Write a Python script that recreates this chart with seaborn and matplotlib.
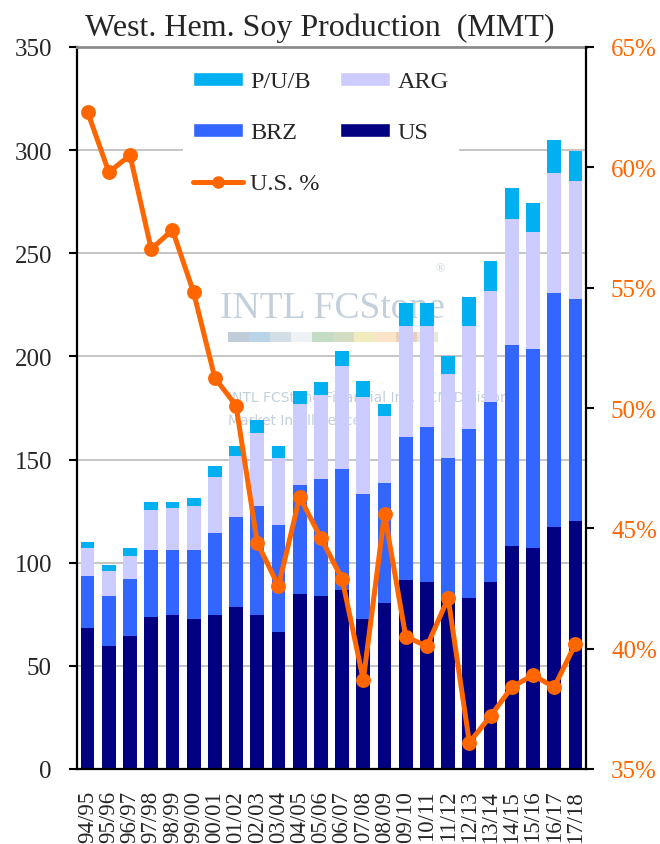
import numpy as np
import matplotlib
matplotlib.use('Agg')
import matplotlib.pyplot as plt
import seaborn as sns
from matplotlib.patches import Patch, Rectangle
from matplotlib.lines import Line2D
from matplotlib.ticker import FuncFormatter

# marketing years
seasons = ['94/95', '95/96', '96/97', '97/98', '98/99', '99/00', '00/01', '01/02',
           '02/03', '03/04', '04/05', '05/06', '06/07', '07/08', '08/09', '09/10',
           '10/11', '11/12', '12/13', '13/14', '14/15', '15/16', '16/17', '17/18']

# production by origin, MMT
us = [68.4, 59.4, 64.4, 73.6, 74.6, 72.6, 74.6, 78.4, 74.6, 66.3, 84.8, 83.8,
      86.7, 72.5, 80.5, 91.7, 90.6, 84.0, 82.7, 90.6, 108.1, 107.1, 117.3, 120.2]
brz = [25.4, 24.4, 27.5, 32.4, 31.4, 33.4, 39.6, 43.7, 52.7, 51.8, 52.7, 56.6,
       58.8, 60.8, 58.0, 69.1, 75.1, 66.6, 82.0, 87.4, 97.4, 96.3, 113.5, 107.6]
arg = [13.3, 12.1, 11.2, 19.4, 20.4, 21.3, 27.4, 29.6, 35.6, 32.5, 39.5, 40.8,
       49.8, 46.9, 32.7, 53.9, 49.0, 40.8, 50.0, 53.9, 61.2, 56.9, 58.0, 57.2]
pub = [3.1, 3.1, 3.8, 3.9, 2.9, 4.1, 5.1, 5.1, 6.2, 6.2, 6.2, 6.2,
       7.1, 8.0, 5.8, 11.2, 11.2, 9.0, 14.1, 14.2, 15.0, 14.3, 16.3, 14.8]

# US share of West. Hem. production, %
us_pct = [62.3, 59.8, 60.5, 56.6, 57.4, 54.8, 51.25, 50.1, 44.4, 42.6, 46.3, 44.6,
          42.9, 38.7, 45.6, 40.5, 40.1, 42.1, 36.1, 37.2, 38.4, 38.9, 38.4, 40.2]

C_PUB = '#00b0f0'
C_ARG = '#ccccff'
C_BRZ = '#3366ff'
C_US = '#000080'
C_LINE = '#ff6600'

sns.set_style('white')
plt.rcParams['font.family'] = ['Liberation Serif', 'DejaVu Serif']

fig = plt.figure(figsize=(6.6, 8.45), dpi=100)
fig.patch.set_facecolor('white')
ax = fig.add_axes([77 / 660, 1 - 770 / 845, (586 - 77) / 660, (770 - 48) / 845])
ax.set_facecolor('none')

# watermark (logo text behind the bars)
ax.text(332 / 660, 1 - 318 / 845, 'INTL FCStone', transform=fig.transFigure,
        ha='center', va='baseline', fontsize=27, color='#c3d0dc', zorder=0.6)
ax.text(436 / 660, 1 - 272 / 845, '\u00ae', transform=fig.transFigure,
        ha='left', va='baseline', fontsize=9, color='#c3d0dc', zorder=0.6)
strip = ['#c0ccd8', '#b8d4e8', '#d4dee6', '#eef2f4', '#c4dcc4', '#d4dcc4',
         '#f0ecc0', '#fce4c8', '#e8d0bc', '#e8e8dc']
for i, c in enumerate(strip):
    fig.patches.append(Rectangle(((228 + i * 21) / 660, 1 - 343 / 845), 21 / 660, 10 / 845,
                                 transform=fig.transFigure, facecolor=c, edgecolor='none',
                                 zorder=-1))
ax.text(228 / 660, 1 - 402 / 845, 'INTL FCStone Financial Inc. FCM Division',
        transform=fig.transFigure, ha='left', va='baseline', fontsize=10,
        family='DejaVu Sans', color='#c3d0dc', zorder=0.6)
ax.text(228 / 660, 1 - 425 / 845, 'Market Intelligence',
        transform=fig.transFigure, ha='left', va='baseline', fontsize=10,
        family='DejaVu Sans', color='#c3d0dc', zorder=0.6)

# stacked bars: draw cumulative totals from the top layer down
cum_brz = np.array(us) + np.array(brz)
cum_arg = cum_brz + np.array(arg)
cum_pub = cum_arg + np.array(pub)
for vals, col in [(cum_pub, C_PUB), (cum_arg, C_ARG), (cum_brz, C_BRZ), (us, C_US)]:
    sns.barplot(x=seasons, y=vals, color=col, saturation=1, width=0.65,
                errorbar=None, linewidth=0, ax=ax)

ax.set_ylim(0, 350)
ax.set_yticks(range(0, 351, 50))
ax.yaxis.grid(True, color='#c0c0c0', linewidth=1.3)
ax.set_axisbelow(True)
ax.set_xlabel('')
ax.set_ylabel('')
ax.set_xlim(-0.5, len(seasons) - 0.5)
ax.set_xticks(range(len(seasons)))
ax.set_xticklabels(seasons, rotation=90, fontsize=16.5)
ax.set_xticks(np.arange(len(seasons) + 1) - 0.5, minor=True)
ax.tick_params(axis='x', which='major', length=0, pad=15)
ax.tick_params(axis='x', which='minor', length=7, width=1.5, direction='out', color='black')
ax.tick_params(axis='y', length=6, width=1.5, direction='out', color='black',
               labelsize=18, pad=12, left=True)
for s in ['left', 'bottom']:
    ax.spines[s].set_color('black')
    ax.spines[s].set_linewidth(1.6)
ax.spines['top'].set_color('#8c8c8c')
ax.spines['top'].set_linewidth(2)
ax.spines['right'].set_visible(False)

# US share line on the right axis
ax2 = ax.twinx()
sns.pointplot(x=seasons, y=us_pct, ax=ax2, color=C_LINE, markers='o', errorbar=None,
              markersize=8, linewidth=3.6)
ax2.set_ylim(35, 65)
ax2.set_yticks(range(35, 66, 5))
ax2.yaxis.set_major_formatter(FuncFormatter(lambda v, p: f'{v:.0f}%'))
ax2.tick_params(axis='y', length=6, width=1.5, direction='out', color='black',
                labelcolor=C_LINE, labelsize=18, pad=12, right=True)
ax2.set_ylabel('')
ax2.set_xlim(-0.5, len(seasons) - 0.5)
for s in ['left', 'top', 'bottom']:
    ax2.spines[s].set_visible(False)
ax2.spines['right'].set_color('black')
ax2.spines['right'].set_linewidth(1.6)

handles = [Patch(facecolor=C_PUB, label='P/U/B'),
           Patch(facecolor=C_BRZ, label='BRZ'),
           Line2D([], [], color=C_LINE, lw=3.6, marker='o', markersize=8, label='U.S. %'),
           Patch(facecolor=C_ARG, label='ARG'),
           Patch(facecolor=C_US, label='US')]
leg = ax2.legend(handles=handles, ncol=2, loc='upper left',
                 bbox_to_anchor=(183 / 660, 1 - 62 / 845), bbox_transform=fig.transFigure,
                 fontsize=17.5, frameon=True, facecolor='white', edgecolor='none',
                 framealpha=1, fancybox=False, borderpad=0.42, handlelength=2.05,
                 handleheight=0.5, handletextpad=0.3, labelspacing=1.24, columnspacing=0.85,
                 borderaxespad=0)

fig.text(320 / 660, 1 - 36 / 845, 'West. Hem. Soy Production  (MMT)', ha='center',
         va='baseline', fontsize=23)

fig.savefig('out.png', dpi=100)
